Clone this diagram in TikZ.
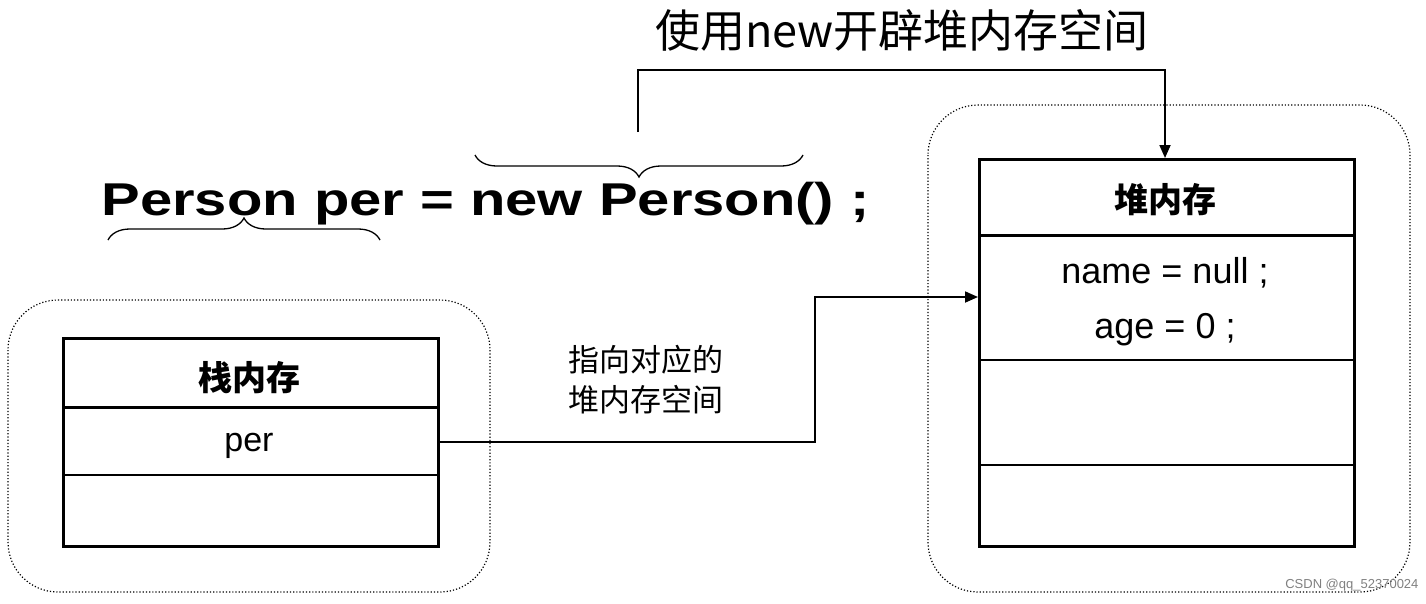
\documentclass[tikz,border=0pt]{standalone}
\usepackage{fontspec}
\setmainfont{Liberation Sans}
\newfontfamily\cjk{Noto Sans CJK SC}
\usetikzlibrary{decorations.pathreplacing,arrows.meta}
\begin{document}
\begin{tikzpicture}[x=1pt,y=-1pt,
  tbl/.style={draw,line width=3pt},
  rowline/.style={line width=1.5pt},
  cloud/.style={draw,dotted,line width=1.2pt,rounded corners=50pt},
  conn/.style={line width=1.8pt,-{Triangle[length=13pt,width=11pt]}},
  br/.style={decorate,decoration={brace,amplitude=22pt},line width=1.3pt}]
\useasboundingbox (0,0) rectangle (1426,603);
\node[font=\cjk\fontsize{45}{47}\selectfont] (title) at (902,30) {使用new开辟堆内存空间};
\node[font=\bfseries\fontsize{46}{50}\selectfont,anchor=west] (code) at (98,204) {\scalebox{1.26}[1]{Person per = new Person() ;}};
\draw[br] (803,155) -- (475,155);
\draw[br] (108,240) -- (380,240);
\draw[cloud] (8,300) rectangle (490,592);
\draw[cloud] (928,105) rectangle (1410,592);
% stack table
\node[tbl,minimum width=375pt,minimum height=208pt,anchor=north west] (stack) at (62,337) {};
\draw[line width=3pt] (62,407) -- (437,407);
\draw[rowline] (62,475) -- (437,475);
\node[font=\cjk\bfseries\fontsize{34}{36}\selectfont] (sh) at (249,378) {栈内存};
\node[font=\fontsize{34}{36}\selectfont] (per) at (249,446) {per};
% heap table
\node[tbl,minimum width=375pt,minimum height=387pt,anchor=north west] (heap) at (978,158) {};
\draw[line width=3pt] (978,235) -- (1353,235);
\draw[rowline] (978,360) -- (1353,360);
\draw[rowline] (978,465) -- (1353,465);
\node[font=\cjk\bfseries\fontsize{34}{36}\selectfont] (hh) at (1165,200) {堆内存};
\node[font=\fontsize{36}{38}\selectfont] (f1) at (1165,273) {name = null ;};
\node[font=\fontsize{36}{38}\selectfont] (f2) at (1165,330) {age = 0 ;};
\coordinate (htop) at (1165,158);
\draw[conn] (638,132) -- (638,70) -- (1165,70) -- (htop);
\coordinate (perR) at (437,442);
\coordinate (hin) at (978,297);
\draw[conn] (perR) -- (815,442) -- (815,297) -- (hin);
\node[font=\cjk\fontsize{31}{40}\selectfont,align=left,anchor=west] (lbl) at (565,380) {指向对应的\\堆内存空间};
\node[font=\fontsize{13}{14}\selectfont,text=gray,anchor=east] (wm) at (1422,585) {CSDN @qq\_52370024};
\end{tikzpicture}
\end{document}
